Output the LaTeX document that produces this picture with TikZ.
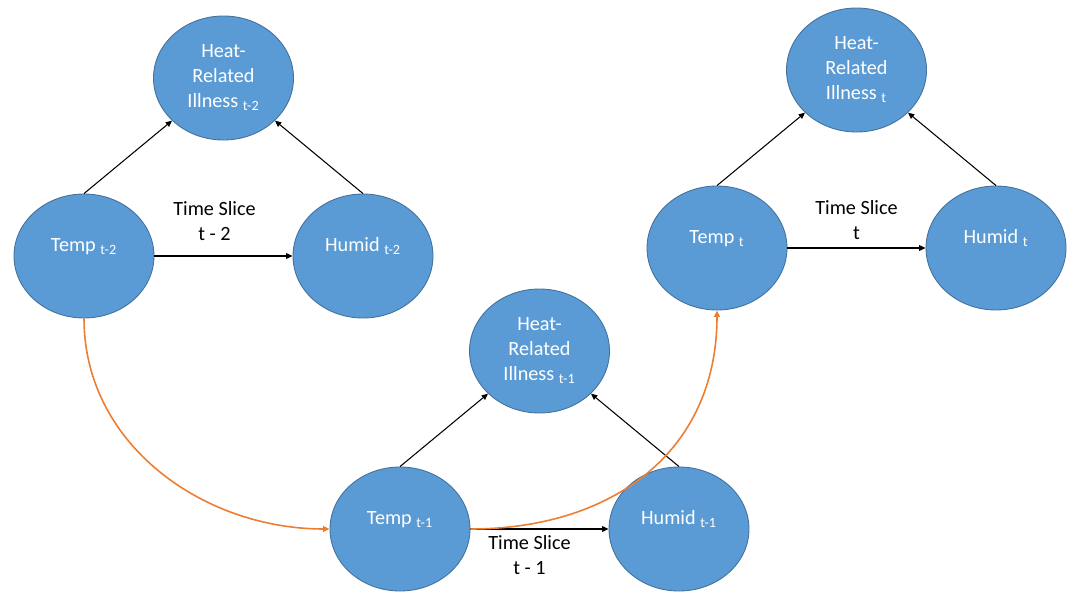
\documentclass[tikz,border=0pt]{standalone}
\usepackage{fontspec}
\setmainfont{Carlito}
\usetikzlibrary{arrows.meta,shapes.geometric,calc,positioning}

\definecolor{nodeblue}{HTML}{5B9BD5}
\definecolor{nodeedge}{HTML}{41719C}
\definecolor{linkorange}{HTML}{ED7D31}

\begin{document}
\begin{tikzpicture}[
    font=\fontsize{11.5}{14.2}\selectfont,
    varnode/.style={ellipse,draw=nodeedge,line width=0.5pt,fill=nodeblue,
      text=white,minimum width=2.8cm,minimum height=2.48cm,inner sep=0pt,
      align=center},
    lowered/.style={varnode,text height=0.26cm,text depth=0.45cm},
    influence/.style={black,line width=0.6pt,
      -{Triangle[length=3.6pt,width=3.2pt]}},
    temporal/.style={influence,draw=linkorange,line width=0.9pt},
    slicelabel/.style={align=center,text=black},
  ]
  \useasboundingbox (0,0) rectangle (21.48,11.88);

  % Offsets inside one time slice
  \coordinate (tohumid) at (5.58,0);
  \coordinate (toillness) at (2.79,3.56);

  % Variables of each time slice
  \foreach \slice/\x/\y/\t in {A/1.68/6.76/t-2, B/8.00/1.30/t-1,
                               C/14.34/6.92/t} {
    \coordinate (base\slice) at (\x,\y);
    \node[lowered] (temp\slice) at (base\slice) {Temp \textsubscript{\t}};
    \node[lowered] (humid\slice) at ($(base\slice)+(tohumid)$)
      {Humid \textsubscript{\t}};
    \node[varnode] (illness\slice) at ($(base\slice)+(toillness)$)
      {Heat-\\Related\\Illness \textsubscript{\t}};
    \draw[influence] (temp\slice.north) -- (illness\slice);
    \draw[influence] (humid\slice.north) -- (illness\slice);
  }

  % Links within a slice
  \draw[influence] (tempA) -- node[slicelabel,above=0.18cm,xshift=-0.18cm]
    (sliceA) {Time Slice\\t - 2} (humidA);
  \draw[influence] (tempB) -- node[slicelabel,below,xshift=-0.2cm]
    (sliceB) {Time Slice\\t - 1} (humidB);
  \draw[influence] (tempC) -- node[slicelabel,above=0.04cm]
    (sliceC) {Time Slice\\t} (humidC);

  % Links between slices
  \draw[temporal] (tempA.south) to[out=-90,in=180] (tempB.west);
  \draw[temporal] (tempB.east) to[out=0,in=-90,looseness=1.1] (tempC.south);
\end{tikzpicture}
\end{document}
